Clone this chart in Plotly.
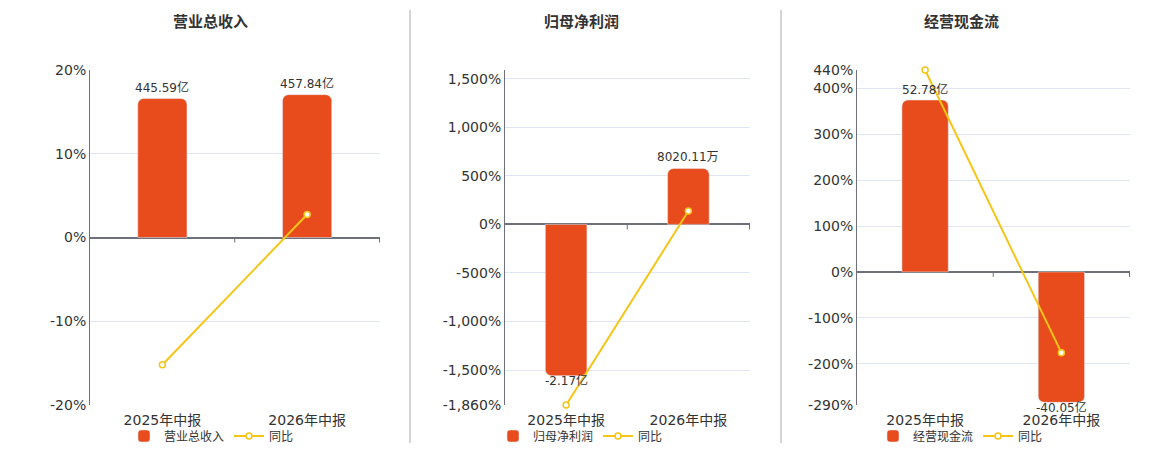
import plotly.graph_objects as go

periods = ['2025年中报', '2026年中报']

titles = ['营业总收入', '归母净利润', '经营现金流']

# bar values in 亿
revenue = [445.59, 457.84]
net_profit = [-2.17, 0.802011]
cash_flow = [52.78, -40.05]

revenue_text = ['445.59亿', '457.84亿']
net_profit_text = ['-2.17亿', '8020.11万']
cash_flow_text = ['52.78亿', '-40.05亿']

# 同比 %
revenue_yoy = [-15.2, 2.75]
net_profit_yoy = [-1860, 137]
cash_flow_yoy = [440, -175.9]

tick_vals_1 = [-20, -10, 0, 10, 20]
tick_text_1 = ['-20%', '-10%', '0%', '10%', '20%']
tick_vals_2 = [-1860, -1500, -1000, -500, 0, 500, 1000, 1500, 1590]
tick_text_2 = ['-1,860%', '-1,500%', '-1,000%', '-500%', '0%', '500%', '1,000%', '1,500%', '']
tick_vals_3 = [-290, -200, -100, 0, 100, 200, 300, 400, 440]
tick_text_3 = ['-290%', '-200%', '-100%', '0%', '100%', '200%', '300%', '400%', '440%']

BAR = '#E84C1D'
LINE = '#F5C518'
W = 1160.0
H = 450.0

panels = [
    dict(vals=revenue, text=revenue_text, yoy=revenue_yoy, tv=tick_vals_1, tt=tick_text_1,
         rng=[-20, 20], k=445.59 / 16.6, x0=90, x1=380, leg=124, title_x=210),
    dict(vals=net_profit, text=net_profit_text, yoy=net_profit_yoy, tv=tick_vals_2, tt=tick_text_2,
         rng=[-1860, 1590], k=2.17 / 1558, x0=505, x1=750, leg=493, title_x=581),
    dict(vals=cash_flow, text=cash_flow_text, yoy=cash_flow_yoy, tv=tick_vals_3, tt=tick_text_3,
         rng=[-290, 440], k=52.78 / 374.6, x0=857, x1=1130, leg=873, title_x=961),
]

fig = go.Figure()
font = 'DejaVu Sans, Noto Sans CJK SC, sans-serif'
ydom = [1 - 405 / H, 1 - 70 / H]
shapes = []
annotations = []

for i, p in enumerate(panels):
    n = i + 1
    xa = 'x' if n == 1 else 'x%d' % n
    yb = 'y' if n == 1 else 'y%d' % (2 * n - 1)   # hidden amount axis (base)
    ya = 'y%d' % (2 * n)                          # percent axis on top
    leg = 'legend' if n == 1 else 'legend%d' % n

    fig.add_trace(go.Bar(
        x=periods, y=p['vals'], marker=dict(color=BAR, cornerradius=6), width=0.34,
        name=titles[i], xaxis=xa, yaxis=yb, legend=leg,
    ))
    fig.add_trace(go.Scatter(
        x=periods, y=p['yoy'], mode='lines+markers', name='同比',
        line=dict(color=LINE, width=2),
        marker=dict(symbol='circle', size=6, color='white', line=dict(color=LINE, width=1.5)),
        cliponaxis=False, xaxis=xa, yaxis=ya, legend=leg,
    ))

    # value labels on bars
    for cat, v, t in zip(periods, p['vals'], p['text']):
        annotations.append(dict(text=t, x=cat, y=v, xref=xa, yref=yb, showarrow=False,
                                xanchor='center', yanchor='middle', yshift=11 if v >= 0 else -5,
                                font=dict(size=12, color='#333')))

    dom = [p['x0'] / W, p['x1'] / W]
    xkey = 'xaxis' if n == 1 else 'xaxis%d' % n
    ykey_b = 'yaxis' if n == 1 else 'yaxis%d' % (2 * n - 1)
    ykey_a = 'yaxis%d' % (2 * n)
    fig.layout[xkey] = dict(domain=dom, anchor=yb, showgrid=False, zeroline=False, automargin=False,
                            tickfont=dict(size=14, color='#333'), ticks='', ticklabelstandoff=5,
                            fixedrange=True)
    fig.layout[ykey_b] = dict(domain=ydom, anchor=xa, visible=False, automargin=False, fixedrange=True,
                              showgrid=False, zeroline=False,
                              range=[p['rng'][0] * p['k'], p['rng'][1] * p['k']])
    fig.layout[ykey_a] = dict(overlaying=yb, anchor=xa, side='left', range=p['rng'],
                              tickvals=p['tv'], ticktext=p['tt'],
                              showgrid=True, gridcolor='#E0E6F1', zeroline=True, zerolinecolor='#6E7079',
                              zerolinewidth=2, showline=True, linecolor='#6E7079', linewidth=1,
                              automargin=False, tickfont=dict(size=14, color='#333'), ticks='',
                              fixedrange=True)
    fig.layout[leg] = dict(orientation='h', x=p['leg'] / W, xanchor='left', y=1 - 436 / H, yanchor='middle',
                           font=dict(size=12, color='#333'), bgcolor='rgba(0,0,0,0)',
                           entrywidth=60, entrywidthmode='pixels')

    # tick marks on zero line at category boundaries
    for xv in [0.5, 1.5]:
        shapes.append(dict(type='line', xref=xa, yref=ya, x0=xv, x1=xv, ysizemode='pixel', yanchor=0,
                           y0=0, y1=-5, line=dict(color='#6E7079', width=1)))

    annotations.append(dict(text='<b>%s</b>' % titles[i], x=p['title_x'] / W, y=1 - 22 / H,
                            xref='paper', yref='paper', xanchor='center', yanchor='middle',
                            showarrow=False, font=dict(size=15, color='#333')))

# dividers
for xd in [410, 781]:
    shapes.append(dict(type='line', xref='paper', yref='paper', x0=xd / W, x1=xd / W,
                       y0=1 - 443 / H, y1=1 - 10 / H, line=dict(color='#AAAAAA', width=1)))

fig.update_layout(
    width=1160, height=450, margin=dict(l=0, r=0, t=0, b=0, autoexpand=False),
    paper_bgcolor='white', plot_bgcolor='white',
    font=dict(family=font, color='#333'),
    shapes=shapes, annotations=annotations, showlegend=True,
)

fig.write_html('out.html', config={'displayModeBar': False},
               post_script="document.body.style.margin='0';")
